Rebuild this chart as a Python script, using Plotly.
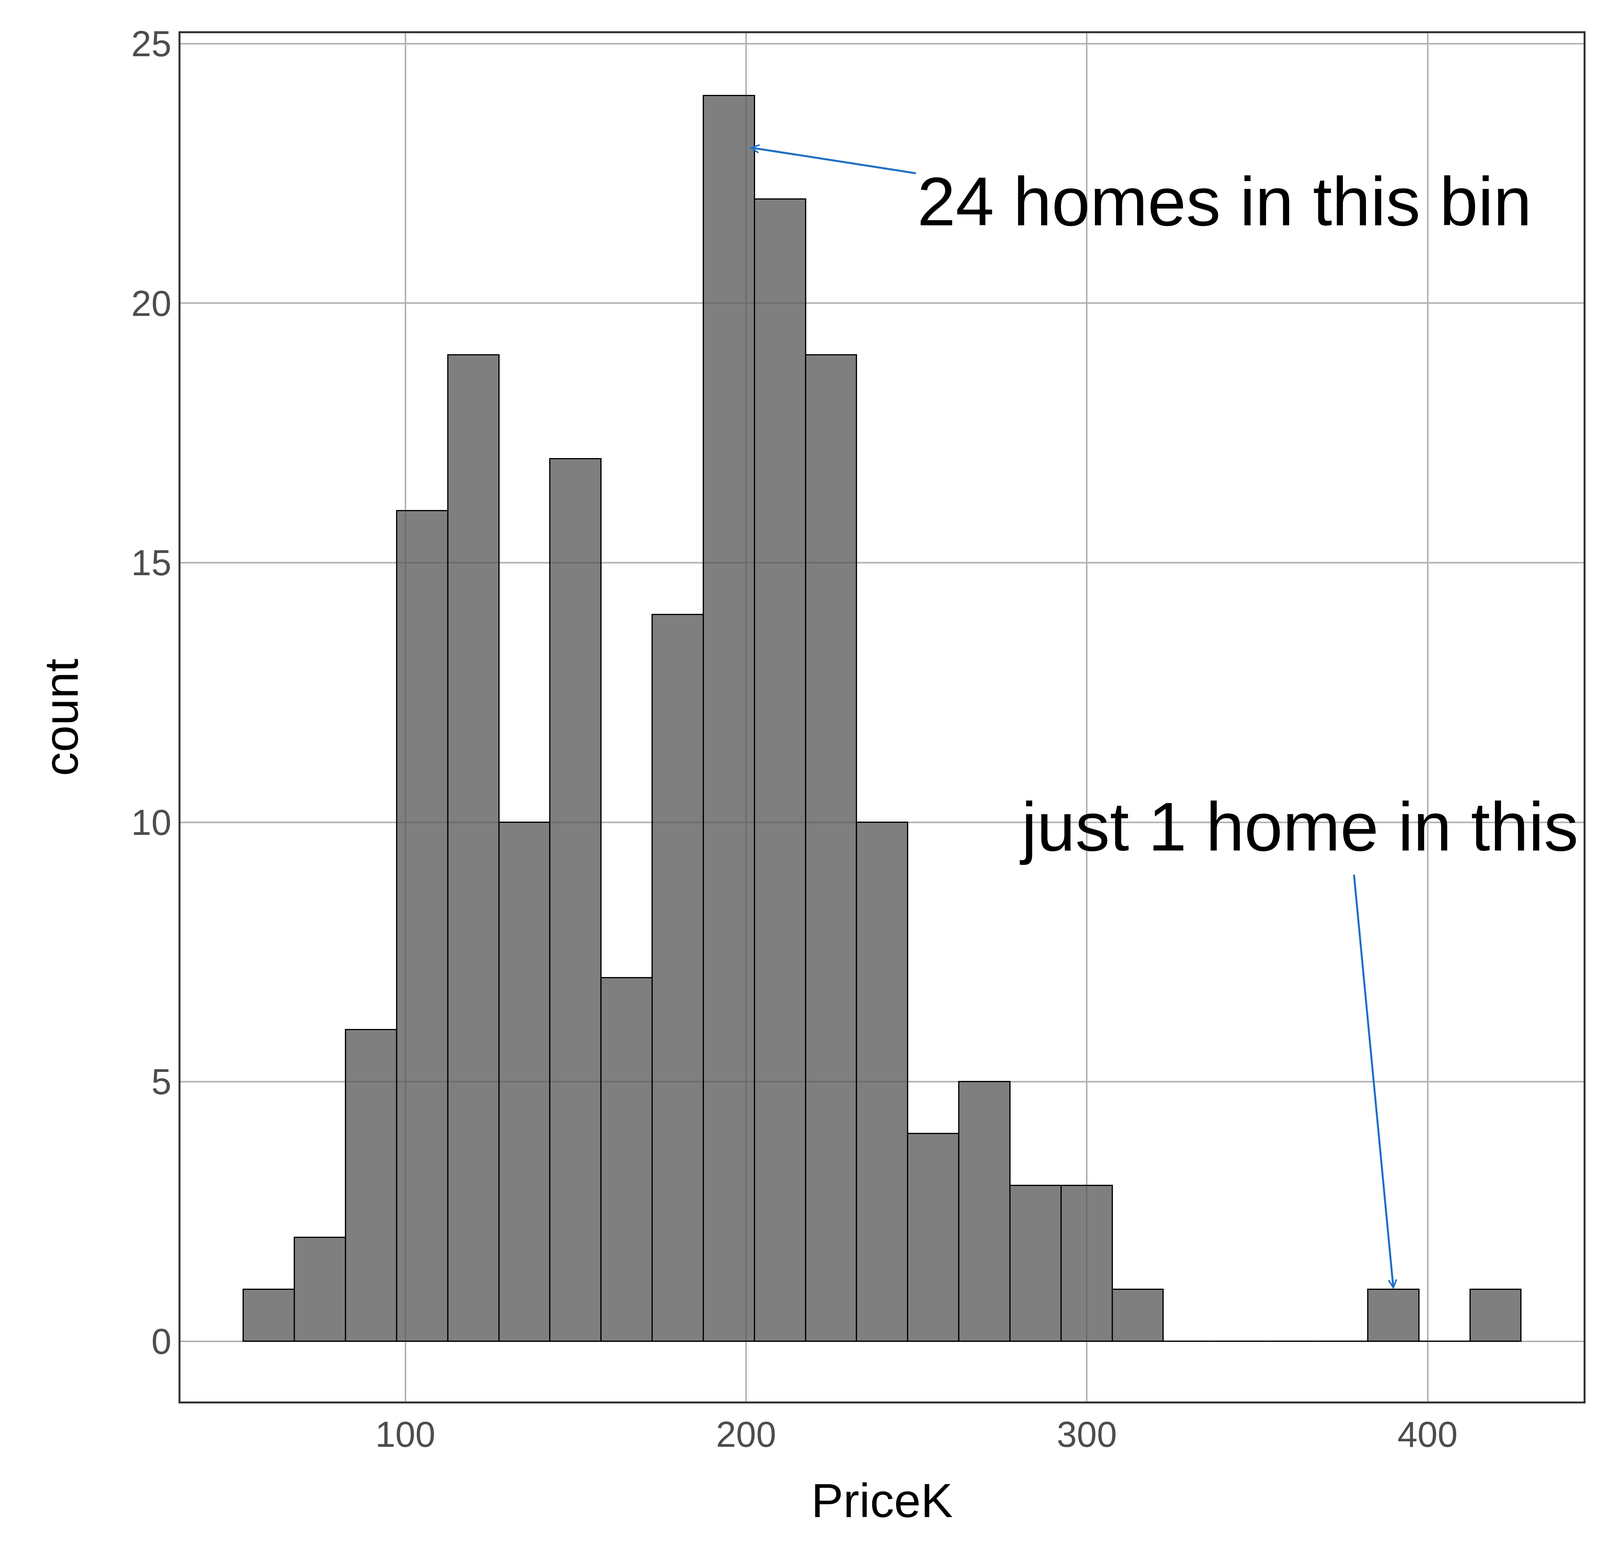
import plotly.graph_objects as go

bin_centers = [60,75,90,105,120,135,150,165,180,195,210,225,240,255,270,285,300,315,330,345,360,375,390,405,420]
counts = [1,2,6,16,19,10,17,7,14,24,22,19,10,4,5,3,3,1,0,0,0,0,1,0,1]
bin_width = 15

S = 6000/1560
fig = go.Figure(go.Bar(x=bin_centers, y=counts, width=[bin_width]*len(counts),
    marker=dict(color="rgba(89,89,89,0.77)", line=dict(color="black", width=0.8*S))))

axis = dict(showgrid=True, gridcolor="#b3b3b3", gridwidth=1.0*S, zeroline=False,
            showline=True, linecolor="#333", linewidth=1.2*S, mirror=True, ticks="",
            tickfont=dict(size=24*S, color="#4d4d4d", family="Liberation Sans"))
fig.update_layout(autosize=True, plot_bgcolor="white", paper_bgcolor="white",
    margin=dict(l=454, r=50, t=77, b=419), showlegend=False,
    font=dict(family="Liberation Sans"), bargap=0)
fig.update_xaxes(**axis, range=[34, 445.8], tickvals=[100,200,300,400],
    title=dict(text="PriceK", font=dict(size=32*S, color="black"), standoff=20*S))
fig.update_yaxes(**axis, range=[-1.16, 25.2], tickvals=[0,5,10,15,20,25],
    title=dict(text="count", font=dict(size=32*S, color="black"), standoff=25*S))

arrow = dict(showarrow=True, arrowhead=5, arrowcolor="#1f6fc5", arrowwidth=1.3*S,
             arrowsize=0.8, xref="x", yref="y", axref="x", ayref="y", text="")
fig.add_annotation(x=201, y=23, ax=250, ay=22.5, **arrow)
fig.add_annotation(x=390, y=1, ax=378.4, ay=9.0, **arrow)
fig.add_annotation(x=250, y=21.96, text="24 homes in this bin", showarrow=False,
    xanchor="left", yanchor="middle", font=dict(size=46*S, color="black"))
fig.add_annotation(x=280, y=9.92, text="just 1 home in this bin", showarrow=False,
    xanchor="left", yanchor="middle", font=dict(size=46*S, color="black"))

fig.write_html("out.html", default_width="100vw", default_height="100vh")
